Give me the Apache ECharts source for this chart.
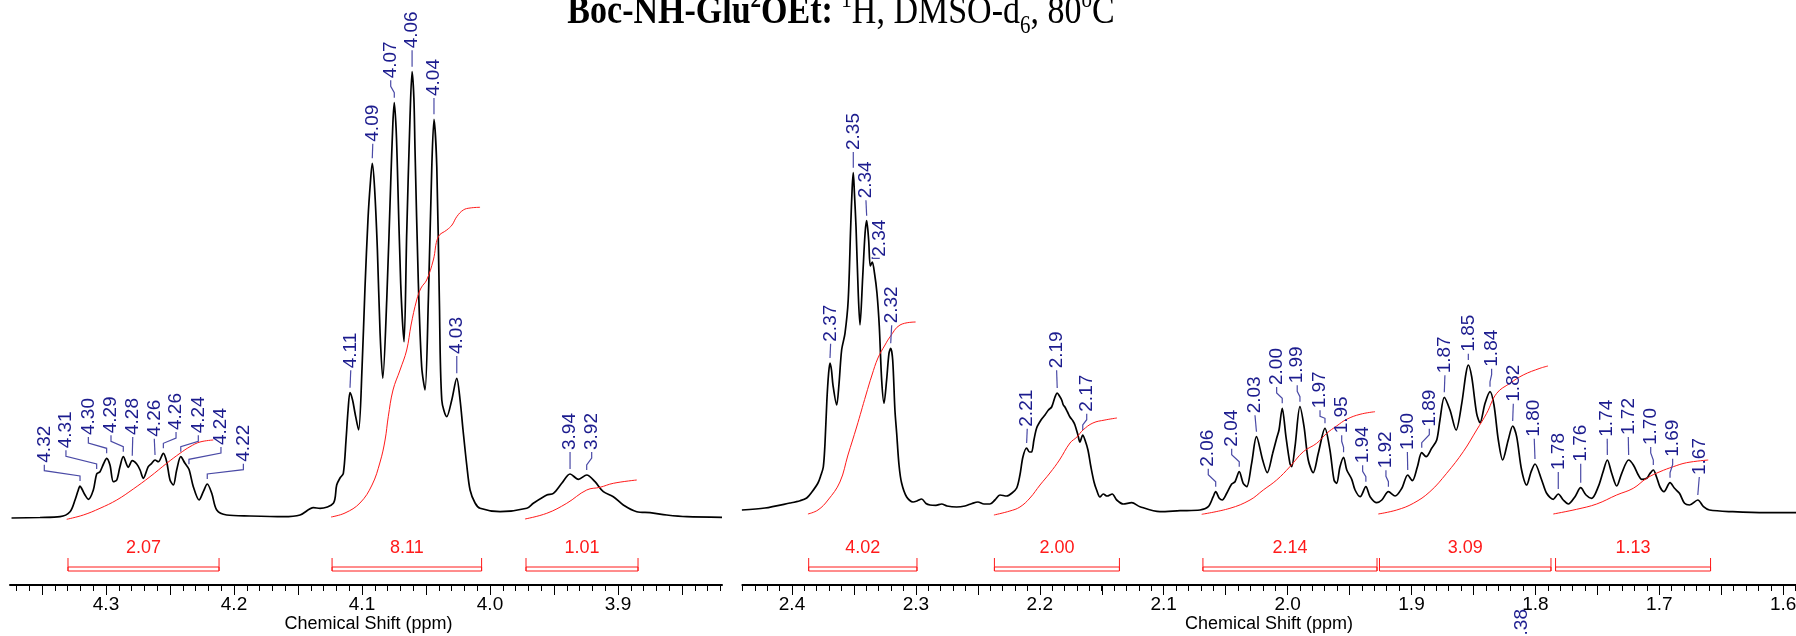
<!DOCTYPE html>
<html>
<head>
<meta charset="utf-8">
<title>Boc-NH-Glu2OEt 1H NMR</title>
<script src="https://cdn.jsdelivr.net/npm/echarts/dist/echarts.min.js"></script>
<style>
  html, body { margin: 0; padding: 0; background: #ffffff; }
  #chart { width: 1796px; height: 636px; }
</style>
</head>
<body>
<div id="chart"></div>
<script>
// ---- Spectrum trace, 4.38–3.82 ppm window: [shift (ppm), intensity]
const traceHigh = [
  [4.3738,0],[4.3516,0.5],[4.3359,1.3],[4.3281,6.3],[4.3242,18],[4.3219,27],[4.3203,32],[4.3188,29],[4.3164,23],
  [4.3138,18.7],[4.3099,28],[4.3073,44],[4.3047,46.3],[4.3020,54],[4.2995,59.7],[4.2969,53],[4.2943,36.3],[4.2916,38],
  [4.2891,51.3],[4.2865,61.3],[4.2826,50.7],[4.2795,57.3],[4.2760,54],[4.2734,48],[4.2709,39.7],[4.2670,51.3],
  [4.2643,54.7],[4.2617,58],[4.2591,56.3],[4.2552,64.7],[4.2526,56.3],[4.2500,38],[4.2474,33],[4.2448,48],
  [4.2416,61.3],[4.2383,54.7],[4.2352,48.7],[4.2318,31.3],[4.2273,18],[4.2240,26.3],[4.2209,34],[4.2174,24.7],
  [4.2135,8],[4.2057,3],[4.1875,2],[4.1615,1.3],[4.1484,3],[4.1380,10.3],[4.1328,9.7],[4.1224,14.7],[4.1198,33],
  [4.1172,40],[4.1146,44.7],[4.1125,78],[4.1109,108],[4.1094,125.3],[4.1074,118],[4.1055,105],[4.1027,88],
  [4.1000,150],[4.0977,230],[4.0953,300],[4.0935,335],[4.0920,354.7],[4.0902,330],[4.0880,268],[4.0859,185],
  [4.0838,139.7],[4.0807,218],[4.0776,335],[4.0759,395],[4.0748,415.3],[4.0734,390],[4.0724,351.3],[4.0698,234.7],
  [4.0672,176.3],[4.0651,284.7],[4.0625,401.3],[4.0609,446.3],[4.0595,420],[4.0586,368],[4.0560,234.7],
  [4.0534,151.3],[4.0508,128],[4.0482,218],[4.0455,351.3],[4.0438,398.7],[4.0416,351.3],[4.0396,218],[4.0377,118],
  [4.0338,101.3],[4.0299,118],[4.0260,139.7],[4.0234,118],[4.0211,88],[4.0182,53],[4.0156,28],[4.0117,15],
  [4.0078,9.7],[3.9922,6.3],[3.9713,9.7],[3.9662,14.7],[3.9557,23],[3.9505,24.7],[3.9440,34.7],[3.9375,44],
  [3.9310,38.7],[3.9245,43],[3.9180,36.3],[3.9115,26.3],[3.9037,21.3],[3.8959,13],[3.8854,6.3],[3.8750,5.3],
  [3.8620,3],[3.8463,1.3],[3.8188,0.7]
];

// ---- Spectrum trace, 2.44–1.59 ppm window
const traceLow = [
  [2.4404,8],[2.4218,10],[2.4016,15],[2.3935,17.3],[2.3881,20],[2.3839,26],[2.3790,35],[2.3766,43],[2.3747,51],
  [2.3734,73],[2.3718,118],[2.3704,145],[2.3693,155],[2.3681,148],[2.3669,133],[2.3639,113],[2.3621,133],
  [2.3599,168],[2.3572,184.7],[2.3546,218],[2.3526,291.3],[2.3514,330],[2.3505,345.3],[2.3496,325],[2.3483,291.3],
  [2.3465,224.7],[2.3451,193],[2.3429,241.3],[2.3410,284.7],[2.3397,297.3],[2.3381,278],[2.3368,252],[2.3352,256],
  [2.3334,245],[2.3314,225],[2.3295,191.3],[2.3276,138],[2.3257,114.7],[2.3236,138],[2.3217,164.7],[2.3203,169.7],
  [2.3187,158],[2.3169,108],[2.3155,85],[2.3136,53],[2.3115,35],[2.3074,21],[2.3023,16],[2.2991,17],[2.2953,19],
  [2.2918,14.5],[2.2886,13],[2.2838,12.7],[2.2792,14],[2.2749,12],[2.2671,11],[2.2604,12],[2.2547,14.5],
  [2.2499,16],[2.2450,14],[2.2402,14],[2.2362,18],[2.2321,23],[2.2267,22],[2.2224,25],[2.2186,30],[2.2160,43],
  [2.2136,61],[2.2106,70],[2.2083,66],[2.2066,66],[2.2047,78],[2.2025,90],[2.1990,98],[2.1958,103],[2.1930,108],
  [2.1904,111],[2.1877,121],[2.1859,125],[2.1841,122],[2.1823,118],[2.1810,113],[2.1797,111],[2.1776,106],
  [2.1756,101],[2.1732,97],[2.1716,93],[2.1692,83],[2.1676,76],[2.1653,83],[2.1635,78],[2.1611,68],[2.1587,51],
  [2.1562,36],[2.1541,28],[2.1514,21],[2.1487,24],[2.1457,22],[2.1415,24],[2.1379,18],[2.1326,14],[2.1258,15.3],
  [2.1191,11.3],[2.1030,6.3],[2.0868,7.3],[2.0707,8],[2.0640,11.3],[2.0600,21.3],[2.0580,26.3],[2.0551,19.7],
  [2.0527,18],[2.0491,24.7],[2.0451,34],[2.0424,36.3],[2.0390,46.3],[2.0358,34.7],[2.0330,31.3],[2.0290,54.7],
  [2.0251,81.3],[2.0201,58],[2.0164,45.3],[2.0120,64.7],[2.0088,79.7],[2.0069,88],[2.0043,109.7],[2.0013,81.3],
  [1.9981,54.7],[1.9967,51.3],[1.9940,71.3],[1.9900,111.3],[1.9867,91.3],[1.9833,58],[1.9793,45.3],[1.9752,64.7],
  [1.9698,89.7],[1.9658,68],[1.9625,38],[1.9604,34.7],[1.9577,51.3],[1.9548,60.7],[1.9522,48],[1.9482,38.7],
  [1.9455,28],[1.9414,21.3],[1.9368,31.3],[1.9334,21.3],[1.9280,15.3],[1.9239,18],[1.9186,26.3],[1.9132,22],
  [1.9078,29.7],[1.9030,43],[1.8993,37.3],[1.8952,51.3],[1.8917,65.3],[1.8882,61.3],[1.8837,69.7],[1.8796,78],
  [1.8770,98],[1.8735,120.7],[1.8689,108],[1.8640,88],[1.8594,114.7],[1.8560,144.7],[1.8541,153],[1.8514,141.3],
  [1.8474,104.7],[1.8447,95.3],[1.8406,114.7],[1.8366,126.3],[1.8334,113],[1.8299,78],[1.8264,58],[1.8219,78],
  [1.8183,92],[1.8151,81.3],[1.8111,48],[1.8070,33],[1.8035,46],[1.8003,54],[1.7949,38],[1.7909,24.7],
  [1.7856,18.7],[1.7815,24],[1.7775,18],[1.7734,14],[1.7680,21.3],[1.7634,30.3],[1.7591,23],[1.7545,19.7],
  [1.7492,31.3],[1.7454,46],[1.7419,58],[1.7384,44.7],[1.7343,32],[1.7303,44.7],[1.7247,58],[1.7209,53],
  [1.7169,43],[1.7141,38.7],[1.7101,39.7],[1.7078,44],[1.7048,48],[1.7022,41],[1.6994,31],[1.6962,26.3],
  [1.6913,35.3],[1.6877,29.7],[1.6837,24.7],[1.6796,14.7],[1.6756,13],[1.6689,18],[1.6643,11.3],[1.6595,8],
  [1.6407,6.3],[1.6138,5.3],[1.5895,5.3]
];

// ---- Picked peaks (ppm)
const peaksHigh = [4.3203, 4.3073, 4.2995, 4.2865, 4.2795, 4.2617, 4.2552, 4.2416, 4.2352, 4.2209,
                   4.1094, 4.0920, 4.0748, 4.0609, 4.0438, 4.0260, 3.9375, 3.9245];
const peaksLow = [2.3693, 2.3505, 2.3397, 2.3352, 2.3203, 2.2106, 2.1859, 2.1653,
                  2.0580, 2.0390, 2.0251, 2.0043, 1.9900, 1.9698, 1.9548, 1.9368, 1.9186, 1.9030, 1.8917,
                  1.8735, 1.8541, 1.8366, 1.8183, 1.8003, 1.7815, 1.7634, 1.7419, 1.7247, 1.7048, 1.6913, 1.6689];

// ---- Integration: regions (ppm from, ppm to), values and running-integral curves
const integralRegions = [[4.3297, 4.2117], [4.1234, 4.0066], [3.9719, 3.8844],
                         [2.3865, 2.2991], [2.2366, 2.1357], [2.0683, 1.9278], [1.9258, 1.7874], [1.7837, 1.6586]];
const integralValues = [2.07, 8.11, 1.01, 4.02, 2.00, 2.14, 3.09, 1.13];
const integralCurves = [
  [[4.3307,-1.3],[4.3177,3],[4.3047,9.7],[4.2916,18],[4.2787,29],[4.2656,41.3],[4.2526,54.7],[4.2422,64.7],[4.2344,71.3],[4.2266,76],[4.2162,78]],
  [[4.1242,1],[4.1133,5],[4.1016,15],[4.0922,33],[4.0859,56],[4.0820,78],[4.0795,101.3],[4.0758,128],[4.0703,148],[4.0651,168],[4.0617,193],[4.0573,218],[4.0539,230],[4.0495,238],[4.0443,258],[4.0404,281.3],[4.0338,288],[4.0297,293],[4.0260,301.3],[4.0209,308],[4.0156,310],[4.0078,310.7]],
  [[3.9727,-1],[3.9557,4.7],[3.9401,14.7],[3.9245,28],[3.9141,30.7],[3.9037,34.7],[3.8854,38]],
  [[2.3871,4],[2.3790,8],[2.3709,18],[2.3613,36],[2.3548,63],[2.3478,91],[2.3403,123],[2.3354,143],[2.3306,160],[2.3249,173],[2.3209,181],[2.3128,193],[2.3002,196]],
  [[2.2370,3],[2.2241,7],[2.2160,11],[2.2079,20],[2.1998,33],[2.1918,45],[2.1841,58],[2.1756,75],[2.1700,81],[2.1651,88],[2.1571,95],[2.1474,98],[2.1377,100]],
  [[2.0693,3.7],[2.0465,9.7],[2.0303,18],[2.0196,28],[2.0088,38],[1.9981,51.3],[1.9873,66.3],[1.9765,74.7],[1.9684,84.7],[1.9604,92],[1.9523,98.7],[1.9415,103.7],[1.9294,106.3]],
  [[1.9268,4],[1.9119,8],[1.8985,14.7],[1.8851,26.3],[1.8716,44.7],[1.8582,66.3],[1.8474,88],[1.8393,104.7],[1.8312,124.7],[1.8205,134.7],[1.8098,143],[1.7963,149.7],[1.7898,152]],
  [[1.7855,4],[1.7667,8.7],[1.7505,14],[1.7344,23],[1.7210,29.7],[1.7102,39.7],[1.6994,46.3],[1.6887,51.3],[1.6779,55.3],[1.6605,58]]
];

// ---- Where each peak label sits: [label shift (ppm), height of text start]
const labelSlotsHigh = [
  [4.3482,55.3],[4.3313,69.7],[4.3138,83],[4.2961,84.7],[4.2791,83],[4.2623,81.3],[4.2453,88],[4.2279,84.7],
  [4.2102,73],[4.1927,56.3],[4.1088,149.7],[4.0916,376.3],[4.0776,439.7],[4.0609,469.7],[4.0438,422],[4.0260,164],
  [3.9375,68],[3.9206,68]
];
const labelSlotsLow = [
  [2.3688,176.3],[2.3505,368],[2.3403,319.7],[2.3295,261.3],[2.3195,194.7],[2.2101,91.3],[2.1864,149.7],[2.1621,106.3],
  [2.0640,51.3],[2.0451,71.3],[2.0263,104.7],[2.0088,133],[1.9922,134.7],[1.9738,109.7],[1.9563,84.7],[1.9394,54.7],
  [1.9206,49.7],[1.9033,68],[1.8856,91.3],[1.8730,144.7],[1.8541,166.3],[1.8353,151.3],[1.8178,116.3],[1.8009,81.3],
  [1.7815,48],[1.7634,56.3],[1.7420,81.3],[1.7250,83],[1.7069,73],[1.6892,61.3],[1.6677,43]
];

// ---- Styling constants
const SANS = '"Liberation Sans", Arial, Helvetica, sans-serif';
const SERIF = '"Liberation Serif", "Times New Roman", Times, serif';
const PEAK_TEXT = '#1c1c8e';
const PEAK_LEADER = '#4a4aa6';
const INTEGRAL_RED = '#ff1a1a';
const Y_MIN = -67, Y_MAX = 478;          // shared intensity scale of every panel
const BRACKET = { tickTop: -40, lineA: -49, lineB: -53, text: -30 };

function heightAt(trace, ppm) {
  for (let i = 0; i < trace.length - 1; i++) {
    const a = trace[i], b = trace[i + 1];
    if (ppm <= a[0] && ppm >= b[0]) {
      const t = a[0] === b[0] ? 0 : (a[0] - ppm) / (a[0] - b[0]);
      return a[1] + t * (b[1] - a[1]);
    }
  }
  return 0;
}

function peakRows(peaks, slots, trace) {
  return peaks.map((p, i) => [p, heightAt(trace, p), slots[i][0], slots[i][1]]);
}

function renderPeakLabel(params, api) {
  const top = api.coord([api.value(0), api.value(1)]);
  const lab = api.coord([api.value(2), api.value(3)]);
  const text = api.value(0).toFixed(2);
  const x1 = top[0], yBottom = top[1] - 5;
  const x2 = lab[0], yTop = lab[1] + 2;
  let pts;
  if (Math.abs(x2 - x1) < 1.5) {
    pts = [[x1, yBottom], [x2, yTop]];
  } else {
    let kneeP = yBottom - 5, kneeL = yTop + 6;
    if (kneeL > kneeP) { const m = (kneeL + kneeP) / 2; kneeL = m; kneeP = m; }
    pts = [[x1, yBottom], [x1, kneeP], [x2, kneeL], [x2, yTop]];
  }
  return {
    type: 'group',
    children: [
      { type: 'polyline', shape: { points: pts }, style: { stroke: PEAK_LEADER, lineWidth: 1.2, fill: null } },
      { type: 'text', x: x2, y: lab[1], rotation: Math.PI / 2,
        style: { text: text, fill: PEAK_TEXT, font: '19px ' + SANS, align: 'left', verticalAlign: 'middle' } }
    ]
  };
}

function renderBracket(params, api) {
  const a = api.coord([api.value(0), BRACKET.lineA]);
  const b = api.coord([api.value(1), BRACKET.lineB]);
  const tTop = api.coord([api.value(0), BRACKET.tickTop])[1];
  const tText = api.coord([api.value(0), BRACKET.text])[1];
  const x1 = a[0], x2 = b[0];
  const st = { stroke: INTEGRAL_RED, lineWidth: 1, fill: null };
  return {
    type: 'group',
    children: [
      { type: 'line', shape: { x1: x1, y1: tTop, x2: x1, y2: b[1] }, style: st },
      { type: 'line', shape: { x1: x2, y1: tTop, x2: x2, y2: b[1] }, style: st },
      { type: 'rect', shape: { x: x1, y: a[1], width: x2 - x1, height: b[1] - a[1] }, style: st },
      { type: 'text', x: (x1 + x2) / 2, y: tText,
        style: { text: api.value(2).toFixed(2), fill: INTEGRAL_RED, font: '18px ' + SANS, align: 'center', verticalAlign: 'middle' } }
    ]
  };
}

function tenthLabel(v) {
  return Math.round(v * 100) % 10 === 0 ? v.toFixed(1) : '';
}

const hiding = { axisLine: { show: false, onZero: false }, axisTick: { show: false }, axisLabel: { show: false }, splitLine: { show: false } };
const blackLine = { show: true, onZero: false, lineStyle: { color: '#000', width: 2 } };
const hiddenLine = { show: false, onZero: false };

// grids: 0 high-window data, 1 high fine ticks, 2 high coarse ticks, 3 low-window data + fine ticks, 4 low coarse ticks
const grids = [
  { left: 10, top: 40, width: 712, height: 545 },
  { left: 16.4, top: 40, width: 704, height: 545 },
  { left: 42, top: 40, width: 640, height: 545 },
  { left: 742.4, top: 40, width: 1053.15, height: 545 },
  { left: 792, top: 40, width: 991.2, height: 545 }
].map(g => Object.assign({ containLabel: false, outerBoundsMode: 'none', show: false }, g));

const nameStyle = { color: '#000', fontSize: 18, fontFamily: SANS };
const tickLabel = { show: true, formatter: tenthLabel, color: '#000', fontSize: 19, fontFamily: SANS, margin: 10,
                    showMinLabel: true, showMaxLabel: true };

const xAxes = [
  Object.assign({ gridIndex: 0, type: 'value', inverse: true, min: 3.8188, max: 4.375 }, hiding, { axisLine: blackLine }),
  Object.assign({ gridIndex: 1, type: 'value', inverse: true, min: 3.82, max: 4.37, interval: 0.01,
    name: 'Chemical Shift (ppm)', nameLocation: 'middle', nameGap: 30, nameTextStyle: nameStyle }, hiding,
    { axisLine: hiddenLine, axisTick: { show: true, length: 6, lineStyle: { color: '#000', width: 1 } } }),
  Object.assign({ gridIndex: 2, type: 'value', inverse: true, min: 3.85, max: 4.35, interval: 0.05 }, hiding,
    { axisLine: hiddenLine, axisTick: { show: true, length: 10, lineStyle: { color: '#000', width: 1 } }, axisLabel: tickLabel }),
  Object.assign({ gridIndex: 3, type: 'value', inverse: true, min: 1.59, max: 2.44, interval: 0.01,
    name: 'Chemical Shift (ppm)', nameLocation: 'middle', nameGap: 30, nameTextStyle: nameStyle }, hiding,
    { axisLine: blackLine, axisTick: { show: true, length: 6, lineStyle: { color: '#000', width: 1 } } }),
  Object.assign({ gridIndex: 4, type: 'value', inverse: true, min: 1.6, max: 2.4, interval: 0.05 }, hiding,
    { axisLine: hiddenLine, axisTick: { show: true, length: 10, lineStyle: { color: '#000', width: 1 } }, axisLabel: tickLabel })
];

const yAxes = grids.map((g, i) => ({ gridIndex: i, type: 'value', min: Y_MIN, max: Y_MAX, show: false }));

const series = [
  { type: 'line', xAxisIndex: 0, yAxisIndex: 0, data: traceHigh, smooth: 0.3, showSymbol: false, symbol: 'none',
    lineStyle: { color: '#000', width: 1.7 }, z: 3, clip: false },
  { type: 'line', xAxisIndex: 3, yAxisIndex: 3, data: traceLow, smooth: 0.3, showSymbol: false, symbol: 'none',
    lineStyle: { color: '#000', width: 1.7 }, z: 3, clip: false }
];

integralCurves.forEach(curve => {
  const hi = curve[0][0] > 3;
  series.push({ type: 'line', xAxisIndex: hi ? 0 : 3, yAxisIndex: hi ? 0 : 3, data: curve, smooth: 0.4,
    showSymbol: false, symbol: 'none', lineStyle: { color: INTEGRAL_RED, width: 1 }, z: 4, clip: false });
});

const bracketRows = integralRegions.map((r, i) => [r[0], r[1], integralValues[i]]);
series.push(
  { type: 'custom', xAxisIndex: 0, yAxisIndex: 0, renderItem: renderBracket, z: 5,
    encode: { x: [0, 1] }, data: bracketRows.filter(r => r[0] > 3) },
  { type: 'custom', xAxisIndex: 3, yAxisIndex: 3, renderItem: renderBracket, z: 5,
    encode: { x: [0, 1] }, data: bracketRows.filter(r => r[0] < 3) },
  { type: 'custom', xAxisIndex: 0, yAxisIndex: 0, renderItem: renderPeakLabel, z: 6,
    encode: { x: 0, y: 1 }, data: peakRows(peaksHigh, labelSlotsHigh, traceHigh) },
  { type: 'custom', xAxisIndex: 3, yAxisIndex: 3, renderItem: renderPeakLabel, z: 6,
    encode: { x: 0, y: 1 }, data: peakRows(peaksLow, labelSlotsLow, traceLow) }
);

const titleRich = {
  b:  { fontFamily: SERIF, fontWeight: 'bold', fontSize: 34, padding: [0, 0, 6, 0], verticalAlign: 'bottom', color: '#000' },
  bs: { fontFamily: SERIF, fontWeight: 'bold', fontSize: 21, padding: [0, 0, 22, 0], verticalAlign: 'bottom', color: '#000' },
  r:  { fontFamily: SERIF, fontSize: 34, padding: [0, 0, 6, 0], verticalAlign: 'bottom', color: '#000' },
  rs: { fontFamily: SERIF, fontSize: 21, padding: [0, 0, 22, 0], verticalAlign: 'bottom', color: '#000' },
  rb: { fontFamily: SERIF, fontSize: 21, padding: [0, 0, 1, 0], verticalAlign: 'bottom', color: '#000' }
};

const chart = echarts.init(document.getElementById('chart'), null, { renderer: 'canvas' });
chart.setOption({
  animation: false,
  backgroundColor: '#ffffff',
  grid: grids,
  xAxis: xAxes,
  yAxis: yAxes,
  series: series,
  graphic: [
    // title, stretched a little vertically about its baseline
    { type: 'text', x: 841, y: 37.5, z: 10, scaleY: 1.2, originX: 0, originY: -11.5,
      style: { text: '{b|Boc-NH-Glu}{bs|2}{b|OEt:}{r| }{rs|1}{r|H, DMSO-d}{rb|6}{r|, 80}{rs|o}{r|C}',
               rich: titleRich, align: 'center', verticalAlign: 'bottom' } },
    { type: 'text', x: 1522, y: 646, rotation: Math.PI / 2, z: 10,
      style: { text: '1.38', fill: PEAK_TEXT, font: '19px ' + SANS, align: 'left', verticalAlign: 'middle' } }
  ]
});
</script>
</body>
</html>
